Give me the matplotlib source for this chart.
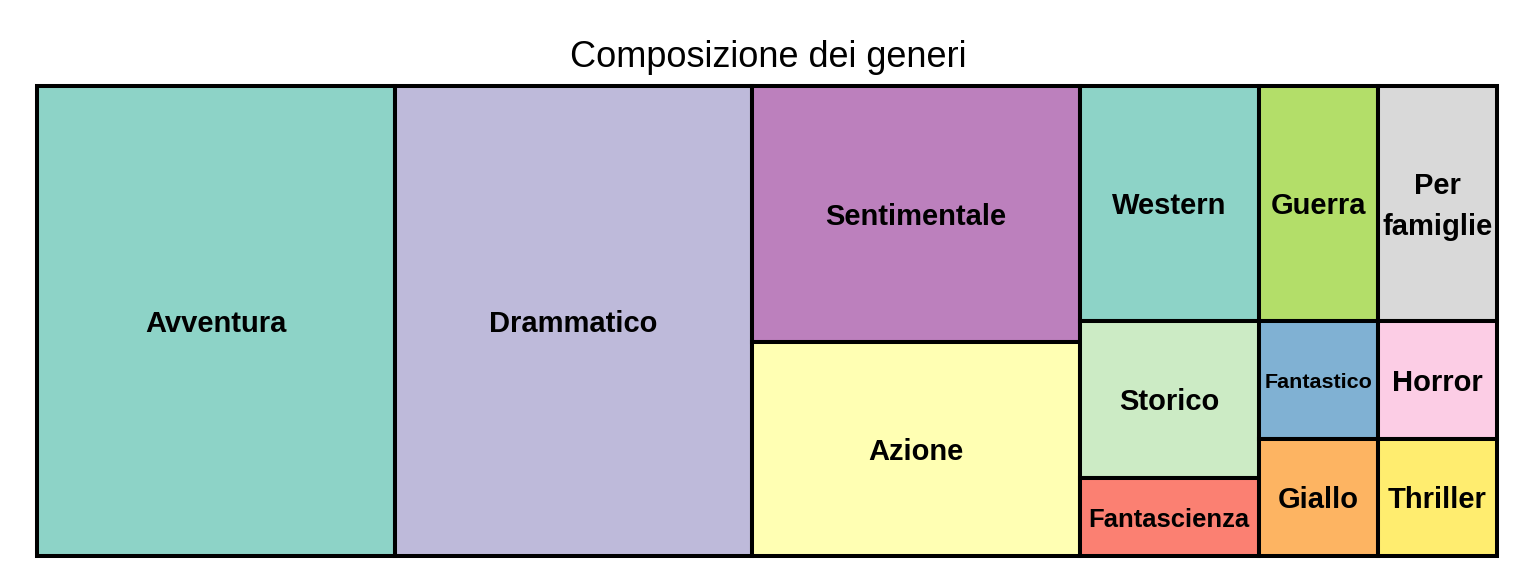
import matplotlib
matplotlib.use("Agg")
import matplotlib.pyplot as plt
from matplotlib.patches import Rectangle

# Dati: numero di film per genere
generi = ["Avventura", "Drammatico", "Sentimentale", "Azione", "Western",
          "Guerra", "Per famiglie", "Storico", "Fantascienza", "Fantastico",
          "Giallo", "Horror", "Thriller"]
valori = [12, 12, 6, 5, 3, 2, 2, 2, 1, 1, 1, 1, 1]

# palette Set3, assegnata ai generi in ordine alfabetico (si ricicla dopo 12)
set3 = ["#8DD3C7", "#FFFFB3", "#BEBADA", "#FB8072", "#80B1D3", "#FDB462",
        "#B3DE69", "#FCCDE5", "#D9D9D9", "#BC80BD", "#CCEBC5", "#FFED6F"]
ordine_alfa = sorted(generi)
colori = {g: set3[i % len(set3)] for i, g in enumerate(ordine_alfa)}

titolo = "Composizione dei generi"

plt.rcParams['font.family'] = ['Liberation Sans', 'DejaVu Sans']

fig = plt.figure(figsize=(15.36, 5.76), dpi=100)
left, right, bottom, top = 37 / 1536, 1497 / 1536, 20 / 576, 490 / 576
ax = fig.add_axes([left, bottom, right - left, top - bottom])
W = 1536 * (right - left)
H = 576 * (top - bottom)


def pivot_size(items, x, y, w, h, out):
    """Layout 'pivot by size' (y verso il basso)."""
    if not items:
        return
    if len(items) == 1:
        out.append((items[0][0], x, y, w, h))
        return
    tot = sum(v for _, v in items)
    p = max(range(len(items)), key=lambda i: (items[i][1], -i))
    l1, piv, rest = items[:p], items[p], items[p + 1:]
    vp = piv[1]
    s1 = sum(v for _, v in l1)
    if w >= h:
        w1 = w * s1 / tot
        pivot_size(l1, x, y, w1, h, out)
        best = None
        for k in range(len(rest) + 1):
            s2 = sum(v for _, v in rest[:k])
            wc = w * (vp + s2) / tot
            hp = h * vp / (vp + s2)
            r = max(wc / hp, hp / wc)
            if best is None or r < best[0]:
                best = (r, k, wc, hp)
        _, k, wc, hp = best
        x0 = x + w1
        out.append((piv[0], x0, y, wc, hp))
        pivot_size(rest[:k], x0, y + hp, wc, h - hp, out)
        pivot_size(rest[k:], x0 + wc, y, w - w1 - wc, h, out)
    else:
        h1 = h * s1 / tot
        pivot_size(l1, x, y, w, h1, out)
        best = None
        for k in range(len(rest) + 1):
            s2 = sum(v for _, v in rest[:k])
            hr = h * (vp + s2) / tot
            wp = w * vp / (vp + s2)
            r = max(wp / hr, hr / wp)
            if best is None or r < best[0]:
                best = (r, k, hr, wp)
        _, k, hr, wp = best
        y0 = y + h1
        out.append((piv[0], x, y0, wp, hr))
        pivot_size(rest[:k], x + wp, y0, w - wp, hr, out)
        pivot_size(rest[k:], x, y0 + hr, w, h - h1 - hr, out)


rettangoli = []
pivot_size(list(zip(generi, valori)), 0, 0, W, H, rettangoli)

ax.set_xlim(0, W)
ax.set_ylim(H, 0)
ax.axis("off")

renderer = fig.canvas.get_renderer()
base = 21
for nome, x, y, w, h in rettangoli:
    ax.add_patch(Rectangle((x, y), w, h, facecolor=colori[nome],
                           edgecolor="black", linewidth=2.9, clip_on=False))
    t = ax.text(x + w / 2, y + h / 2 + 3, nome, ha="center", va="center",
                fontsize=base, fontweight="bold", color="black",
                linespacing=1.6)
    larg = t.get_window_extent(renderer).width
    if larg > 0.97 * w and " " in nome:
        t.set_text(nome.replace(" ", "\n"))
        larg = t.get_window_extent(renderer).width
    if larg > 0.97 * w:
        t.set_fontsize(base * 0.9 * w / larg)

fig.text(0.5, 1 - 67 / 576, titolo, ha="center", va="baseline", fontsize=26)

fig.savefig("out.png", dpi=100)
